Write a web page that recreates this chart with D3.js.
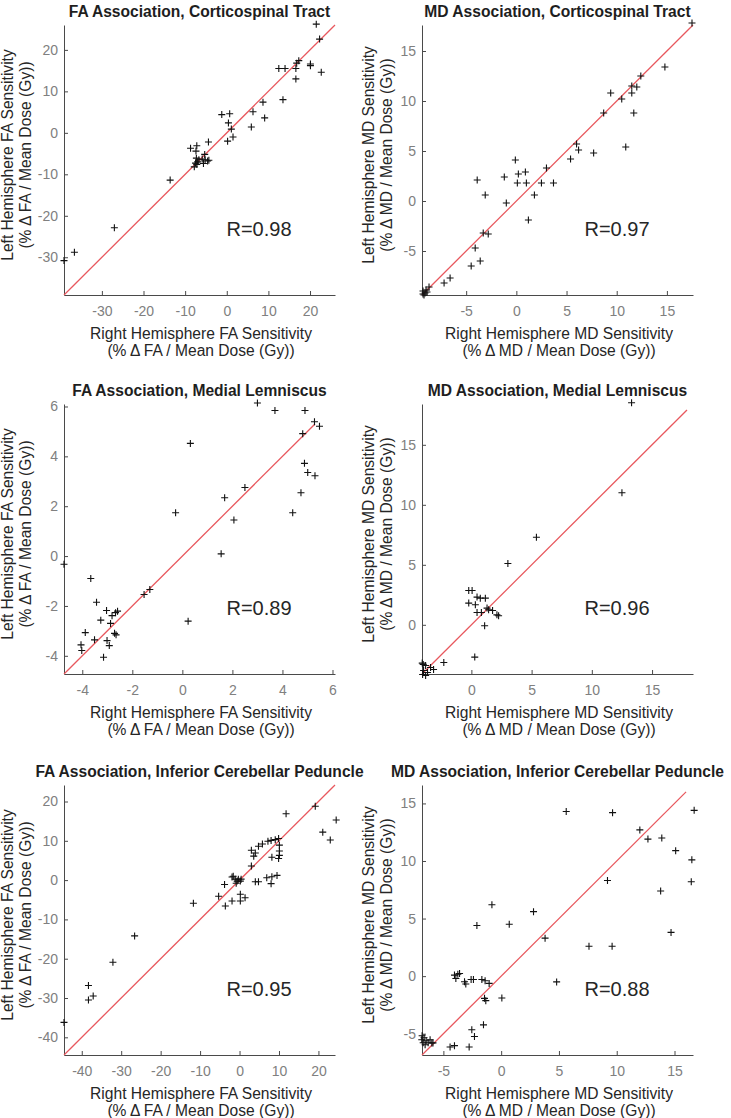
<!DOCTYPE html>
<html><head><meta charset="utf-8">
<script src="https://cdn.jsdelivr.net/npm/d3@7"></script>
<style>
html,body{margin:0;padding:0;background:#fff;}
svg{display:block;font-family:"Liberation Sans",Arial,sans-serif;}
</style></head>
<body><svg id="c" width="731" height="1118"></svg>
<script>
// ---- data ----
const titles = [
  "FA Association, Corticospinal Tract", "MD Association, Corticospinal Tract",
  "FA Association, Medial Lemniscus", "MD Association, Medial Lemniscus",
  "FA Association, Inferior Cerebellar Peduncle", "MD Association, Inferior Cerebellar Peduncle"
];
const metrics = ["FA","MD","FA","MD","FA","MD"];
const rLabels = ["R=0.98","R=0.97","R=0.89","R=0.96","R=0.95","R=0.88"];
const domains = [[-39.1,26.0],[-9.4,17.6],[-4.73,6.1],[-4.1,18.4],[-44.5,24.2],[-6.85,16.6]];
const lineEnds = [26.0,17.6,5.3,17.9,24.2,16.0];
const ticks = [
  [-30,-20,-10,0,10,20],[-5,0,5,10,15],[-4,-2,0,2,4,6],
  [0,5,10,15],[-40,-30,-20,-10,0,10,20],[-5,0,5,10,15]
];

const p1x = [21.5,22.3,22.7,12.5,14.0,16.6,16.6,16.8,17.3,20.1,20.1,13.5,8.7,9.1,6.3,5.9,0.7,-1.2,0.4,1.1,1.5,0.2,-4.4,-8.7,-7.2,-7.4,-5.3,-4.6,-4.3,-5.6,-5.2,-5.9,-6.7,-7.3,-7.0,-7.5,-7.8,-7.2,-13.6,-27.0,-36.6,-39.1];
const p1y = [26.2,22.6,14.6,15.5,15.5,15.5,13.0,16.8,17.4,16.6,16.2,8.0,7.4,3.6,5.1,1.4,4.6,4.4,2.4,0.9,-1.0,-2.0,-2.2,-3.7,-3.1,-4.4,-5.2,-6.8,-6.6,-7.4,-6.5,-6.3,-6.5,-6.1,-7.0,-7.3,-8.2,-7.6,-11.4,-22.9,-28.8,-30.8];

const p2x = [17.5,14.8,12.4,11.5,12.0,11.5,9.4,10.5,11.7,8.7,10.9,6.0,6.2,5.4,7.7,3.0,-0.1,0.2,0.9,0.1,1.0,2.5,3.7,-1.2,-3.9,-3.1,-1.0,1.8,1.2,-3.3,-2.8,-4.1,-3.6,-4.5,-6.6,-7.2,-8.7,-9.3,-9.1,-9.2,-8.9,-9.0,-9.3];
const p2y = [17.8,13.4,12.5,11.5,11.4,10.8,10.8,10.2,8.8,8.8,5.4,5.7,5.1,4.2,4.8,3.3,4.1,2.7,2.9,1.8,1.8,1.8,1.8,2.4,2.1,0.6,-0.2,0.6,-1.9,-3.2,-3.3,-4.7,-6.0,-6.5,-7.7,-8.2,-8.6,-9.0,-9.2,-9.4,-9.1,-8.9,-9.3];

const p3x = [3.0,3.70,4.90,5.28,5.48,4.81,0.32,4.88,5.01,5.30,4.74,2.5,1.69,-0.27,2.06,4.41,1.55,-3.66,-3.43,-3.03,-3.26,-2.67,-2.59,-2.81,-2.87,-1.53,-1.30,0.23,-3.88,-3.51,-3.01,-2.92,-2.71,-2.65,-4.05,-4.02,-3.15,-4.73];
const p3y = [6.14,5.84,5.84,5.39,5.21,4.91,4.52,3.72,3.35,3.22,2.54,2.75,2.34,1.74,1.45,1.74,0.09,-0.90,-1.85,-2.18,-2.57,-2.27,-2.21,-2.39,-2.70,-1.54,-1.34,-2.61,-3.07,-3.36,-3.39,-3.59,-3.10,-3.16,-3.56,-3.79,-4.06,-0.33];

const p4x = [13.3,12.5,5.4,3.03,-0.22,0.06,0.47,0.74,1.16,-0.22,0.33,1.30,1.43,0.47,0.83,1.76,2.12,2.26,1.10,0.28,-2.29,-4.08,-3.80,-3.39,-3.97,-3.64,-4.05,-3.80,-3.14,-4.0];
const p4y = [18.5,11.0,7.3,5.11,2.86,2.86,2.31,2.22,2.22,1.81,1.67,1.39,1.25,1.03,1.03,1.19,0.83,0.75,-0.08,-2.69,-3.14,-3.19,-3.39,-3.56,-3.81,-3.97,-4.14,-4.22,-3.72,-3.3];

const p5x = [19.2,24.5,11.8,21.1,23.0,9.9,9.05,8.0,7.2,5.8,4.8,3.0,4.0,3.6,10.1,10.1,10.1,8.2,9.9,3.0,-1.6,-1.1,-0.6,-0.3,0.2,-0.85,-1.9,0.4,4.0,4.8,6.9,8.2,9.5,8.0,-3.8,-5.3,-1.9,0.2,0.2,1.4,-3.6,-11.7,-26.6,-32.1,-38.3,-38.3,-37.1,-44.5];
const p5y = [18.8,15.3,16.9,12.2,10.2,10.6,10.3,10.1,9.9,9.2,8.6,7.6,6.9,6.1,8.9,7.4,6.3,5.8,5.5,3.6,1.0,0.25,-0.25,0.25,-0.25,-0.8,0.8,0.25,-0.4,-0.4,0.6,0.85,1.2,-0.9,-1.1,-4.1,-5.3,-5.3,-3.6,-4.5,-6.6,-5.9,-14.2,-20.9,-26.8,-30.5,-29.5,-36.2];

const p6x = [5.63,9.64,16.7,12.0,12.7,13.9,15.1,16.5,16.45,9.2,13.8,14.7,7.6,9.6,-0.8,2.8,0.7,-2.1,3.8,4.8,0.06,-4.04,-3.75,-3.92,-3.6,-3.17,-3.06,-2.6,-2.4,-1.67,-1.39,-1.04,-1.44,-1.33,-1.53,-2.54,-2.31,-2.77,-4.42,-4.04,-6.87,-6.67,-6.49,-6.75,-6.32,-6.58,-6.15,-6.0,-6.84,-5.9];
const p6y = [14.3,14.2,14.4,12.7,11.9,12.0,10.9,10.1,8.2,8.3,7.4,3.8,2.6,2.6,6.2,5.6,4.5,4.4,3.3,-0.5,-1.9,0.09,0.17,-0.2,0.23,-0.49,-0.69,-0.29,-0.29,-0.29,-0.4,-0.63,-1.93,-2.13,-4.23,-4.66,-5.24,-6.16,-6.16,-6.04,-5.53,-5.35,-5.61,-5.78,-5.78,-5.96,-5.53,-5.81,-5.18,-5.8];

const xs = [p1x,p2x,p3x,p4x,p5x,p6x];
const ys = [p1y,p2y,p3y,p4y,p5y,p6y];

// ---- layout ----
const colLeft = [64, 422];
const rowTop = [25, 404, 785];
const W = 271, H = 270;
const yLabOff = [[-57,-39],[-53.5,-35.5]];

const svg = d3.select("#c");

for (let i = 0; i < 6; i++) {
  const col = i % 2, row = Math.floor(i / 2);
  const L = colLeft[col], T = rowTop[row];
  const g = svg.append("g").attr("transform", `translate(${L},${T})`);
  const x = d3.scaleLinear().domain(domains[i]).range([0, W]);
  const y = d3.scaleLinear().domain(domains[i]).range([H, 0]);

  const xa = g.append("g").attr("transform", `translate(0,${H})`)
    .call(d3.axisBottom(x).tickValues(ticks[i]).tickSize(-4).tickSizeOuter(0).tickPadding(11).tickFormat(d3.format("d")));
  const ya = g.append("g")
    .call(d3.axisLeft(y).tickValues(ticks[i]).tickSize(-4).tickSizeOuter(0).tickPadding(6).tickFormat(d3.format("d")));
  [xa, ya].forEach(a => {
    a.select(".domain").attr("stroke", "#4a4a4a").attr("stroke-width", 1);
    a.selectAll(".tick line").attr("stroke", "#4a4a4a");
    a.selectAll(".tick text").attr("fill", "#808080").style("font-size", "14px")
      .style("font-family", '"Liberation Sans",Arial,sans-serif')
      .text(d => d < 0 ? "-" + Math.abs(d) : d);
  });

  // identity line
  const lo = domains[i][0], hi = lineEnds[i];
  g.append("line")
    .attr("x1", x(lo)).attr("y1", y(lo)).attr("x2", x(hi)).attr("y2", y(hi))
    .attr("stroke", "#e8585e").attr("stroke-width", 1.3);

  // points
  const pts = xs[i].map((v, k) => [v, ys[i][k]]);
  g.selectAll("path.pt").data(pts).enter().append("path")
    .attr("class", "pt")
    .attr("transform", d => `translate(${x(d[0])},${y(d[1])})`)
    .attr("d", "M-3.5,0H3.5M0,-3.5V3.5")
    .attr("stroke", "#111").attr("stroke-width", 1.1).attr("fill", "none");

  // R text
  g.append("text").attr("x", 195).attr("y", 204).attr("dy", "0.36em")
    .attr("text-anchor", "middle").attr("fill", "#262626")
    .style("font-size", "20px").text(rLabels[i]);

  // title
  g.append("text").attr("x", W / 2).attr("y", -8)
    .attr("text-anchor", "middle").attr("fill", "#1e1e1e")
    .style("font-size", "15.6px").style("font-weight", "bold").text(titles[i]);

  // x label
  const m = metrics[i];
  g.append("text").attr("x", 137).attr("y", H + 38).attr("dy", "0.36em")
    .attr("text-anchor", "middle").attr("fill", "#262626").style("font-size", "15.6px")
    .text(`Right Hemisphere ${m} Sensitivity`);
  g.append("text").attr("x", 137).attr("y", H + 55).attr("dy", "0.36em")
    .attr("text-anchor", "middle").attr("fill", "#262626").style("font-size", "15.6px")
    .text(`(% Δ ${m} / Mean Dose (Gy))`);

  // y label
  const yl = g.append("g").attr("transform", `translate(0,${130}) rotate(-90)`);
  yl.append("text").attr("x", 0).attr("y", yLabOff[col][0]).attr("dy", "0.36em")
    .attr("text-anchor", "middle").attr("fill", "#262626").style("font-size", "15.6px")
    .text(`Left Hemisphere ${m} Sensitivity`);
  yl.append("text").attr("x", 0).attr("y", yLabOff[col][1]).attr("dy", "0.36em")
    .attr("text-anchor", "middle").attr("fill", "#262626").style("font-size", "15.6px")
    .text(`(% Δ ${m} / Mean Dose (Gy))`);
}
</script>
</body></html>
